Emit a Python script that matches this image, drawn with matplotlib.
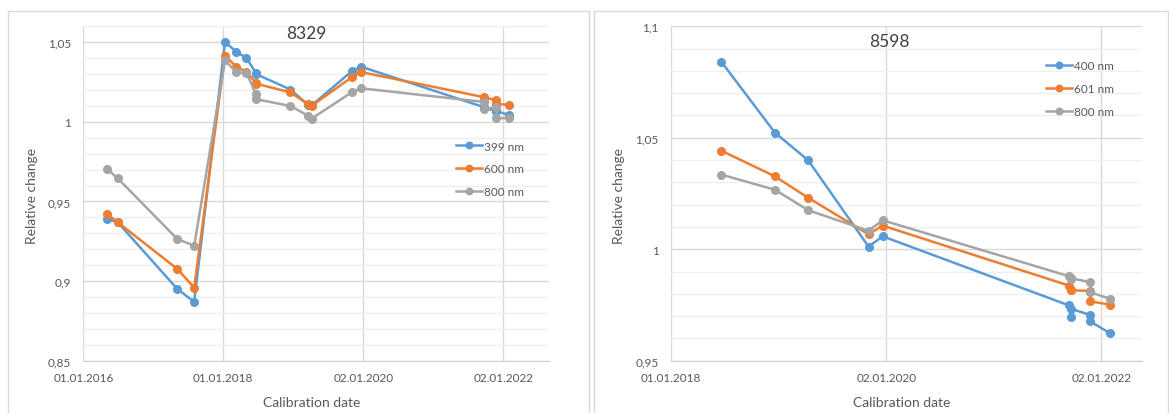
import numpy as np
import matplotlib
matplotlib.use("Agg")
import matplotlib.pyplot as plt
import matplotlib.dates as mdates
from matplotlib.ticker import MultipleLocator, FuncFormatter
from matplotlib.patches import Rectangle

plt.rcParams['font.family'] = ['Lato', 'DejaVu Sans']

# instrument 8329
dates_8329 = np.array([
    "2016-05-04", "2016-06-28", "2017-05-06", "2017-08-02", "2018-01-10",
    "2018-03-11", "2018-05-02", "2018-06-21", "2018-06-21", "2018-12-18",
    "2019-03-21", "2019-04-07", "2019-11-03", "2019-12-21", "2021-09-24",
    "2021-09-24", "2021-11-28", "2021-11-28", "2022-01-31"], dtype="datetime64[D]")
nm399 = [0.939, 0.937, 0.895, 0.887, 1.050, 1.0440, 1.0401, 1.0306, 1.0300, 1.0203,
         1.0105, 1.0103, 1.0318, 1.0347, 1.0092, 1.0086, 1.0070, 1.0068, 1.0043]
nm600 = [0.942, 0.937, 0.9076, 0.8959, 1.0416, 1.0345, 1.0315, 1.0243, 1.0240, 1.0185,
         1.0110, 1.0100, 1.0280, 1.0313, 1.0155, 1.0152, 1.0138, 1.0112, 1.0107]
nm800_a = [0.9704, 0.9646, 0.9264, 0.9222, 1.0386, 1.0311, 1.0308, 1.0173, 1.0142, 1.0100,
           1.0038, 1.0020, 1.0186, 1.0211, 1.0125, 1.0078, 1.0092, 1.0025, 1.0023]

# instrument 8598
dates_8598 = np.array([
    "2018-06-21", "2018-12-20", "2019-04-12", "2019-11-03", "2019-12-21",
    "2021-09-14", "2021-09-22", "2021-09-22", "2021-11-26", "2021-11-26",
    "2022-01-30"], dtype="datetime64[D]")
nm400 = [1.0841, 1.0523, 1.0399, 1.0012, 1.0058, 0.9748, 0.9696, 0.9733, 0.9704, 0.9676, 0.9624]
nm601 = [1.0442, 1.0327, 1.0231, 1.0067, 1.0106, 0.9837, 0.9818, 0.9816, 0.9813, 0.9766, 0.9752]
nm800_b = [1.0335, 1.0267, 1.0175, 1.0083, 1.0130, 0.9879, 0.9866, 0.9870, 0.9852, 0.9807, 0.9778]

xticks_a = np.array(["2016-01-01", "2018-01-01", "2020-01-02", "2022-01-02"], dtype="datetime64[D]")
xticks_b = np.array(["2018-01-01", "2020-01-02", "2022-01-02"], dtype="datetime64[D]")

BLUE, ORANGE, GRAY = "#5B9BD5", "#ED7D31", "#A5A5A5"
TXT = "#595959"


def comma(v, pos):
    s = ("%.2f" % v).rstrip("0").rstrip(".")
    return s.replace(".", ",")


def setup(ax, xticks, xlim, ylim, ystep):
    ax.set_xlim(np.datetime64(xlim[0]), np.datetime64(xlim[1]))
    ax.set_ylim(*ylim)
    ax.set_xticks(xticks)
    ax.xaxis.set_major_formatter(mdates.DateFormatter("%d.%m.%Y"))
    ax.yaxis.set_major_locator(MultipleLocator(ystep))
    ax.yaxis.set_minor_locator(MultipleLocator(0.01))
    ax.yaxis.set_major_formatter(FuncFormatter(comma))
    ax.grid(which="major", color="#D9D9D9", lw=1)
    ax.grid(which="minor", axis="y", color="#EFEFEF", lw=1)
    ax.set_axisbelow(True)
    for s in ["top", "right", "left"]:
        ax.spines[s].set_visible(False)
    ax.spines["bottom"].set_color("#D0D0D0")
    ax.tick_params(which="both", length=0, labelsize=8.5, labelcolor=TXT)
    ax.tick_params(axis="x", pad=8)
    ax.tick_params(axis="y", pad=9)
    ax.set_xlabel("Calibration date", fontsize=10, color=TXT)
    ax.set_ylabel("Relative change", fontsize=10, color=TXT, va="center")
    ax.yaxis.set_label_coords(-0.11, 0.495)
    ax.xaxis.set_label_coords(0.49, -0.105)


fig = plt.figure(figsize=(11.69, 4.14), dpi=100)

# chart frames
fig.patches.append(Rectangle((8 / 1169, -0.1), 581 / 1169, 1.1 - 12 / 414, transform=fig.transFigure,
                             fill=False, edgecolor="#D9D9D9", lw=1))
fig.patches.append(Rectangle((594 / 1169, -0.1), 574 / 1169, 1.1 - 12 / 414, transform=fig.transFigure,
                             fill=False, edgecolor="#D9D9D9", lw=1))

ax1 = fig.add_axes([0.0713, 0.1263, 0.3981, 0.8077])
ax2 = fig.add_axes([0.574, 0.1263, 0.4029, 0.8077])

style = dict(marker="o", markersize=5.5, lw=1.8)
leg = dict(loc="upper left", frameon=False, fontsize=8.5, labelcolor=TXT, handlelength=2.2,
           handletextpad=0.2, labelspacing=1.0, markerscale=0.85)

ax1.plot(dates_8329, nm399, color=BLUE, label="399 nm", **style)
ax1.plot(dates_8329, nm600, color=ORANGE, label="600 nm", **style)
ax1.plot(dates_8329, nm800_a, color=GRAY, label="800 nm", **style)
setup(ax1, xticks_a, ("2016-01-01", "2022-08-28"), (0.85, 1.06), 0.05)
ax1.text(0.48, 0.979, "8329", transform=ax1.transAxes, ha="center", va="center",
         fontsize=12.5, color="#404040")
ax1.legend(bbox_to_anchor=(0.778, 0.69), **leg)

ax2.plot(dates_8598, nm400, color=BLUE, label="400 nm", **style)
ax2.plot(dates_8598, nm601, color=ORANGE, label="601 nm", **style)
ax2.plot(dates_8598, nm800_b, color=GRAY, label="800 nm", **style)
setup(ax2, xticks_b, ("2018-01-01", "2022-05-20"), (0.95, 1.1), 0.05)
ax2.text(0.463, 0.957, "8598", transform=ax2.transAxes, ha="center", va="center",
         fontsize=12.5, color="#404040")
ax2.legend(bbox_to_anchor=(0.773, 0.93), **leg)

fig.savefig("out.png", dpi=100)
